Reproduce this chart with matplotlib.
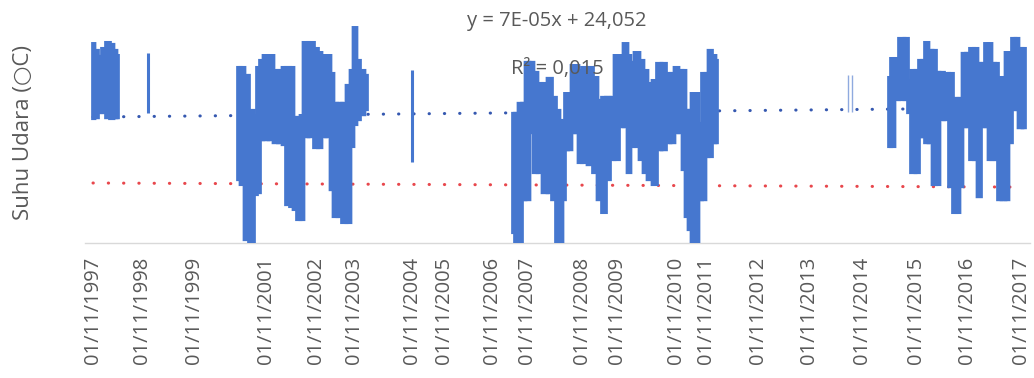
import matplotlib
matplotlib.use('Agg')
import matplotlib.pyplot as plt

plt.rcParams['path.simplify'] = False

# ---------------- data (x = category index of the daily series, y = air temperature in °C) -------------
tick_labels = ['01/11/1997', '01/11/1998', '01/11/1999', '01/11/2001', '01/11/2002',
               '01/11/2003', '01/11/2004', '01/11/2005', '01/11/2006', '01/11/2007',
               '01/11/2008', '01/11/2009', '01/11/2010', '01/11/2011', '01/11/2012',
               '01/11/2013', '01/11/2014', '01/11/2015', '01/11/2016', '01/11/2017']
tick_index = [0, 392, 808, 1384, 1784, 2088, 2552, 2808, 3192, 3472,
              3912, 4192, 4664, 4904, 5320, 5728, 6152, 6584, 6992, 7424]

# envelope (daily max / min band) of each continuous block of observations
segA_x = [0, 24, 56, 88, 120, 152, 176, 200]
segA_hi = [28.25, 27.86, 27.52, 27.97, 28.31, 28.20, 27.86, 27.57]
segA_lo = [23.94, 23.99, 24.28, 24.28, 23.99, 23.94, 23.99, 23.99]

segB_x = [1160, 1200, 1224, 1272, 1304, 1320, 1352, 1376, 1432, 1456,
          1504, 1528, 1560, 1592, 1616, 1648, 1672, 1696, 1752, 1784,
          1816, 1840, 1888, 1912, 1936, 1976, 2008, 2048, 2072, 2096,
          2120, 2152, 2192]
segB_hi = [26.89, 26.89, 26.44, 24.45, 24.16, 26.89, 27.29, 27.57, 27.57, 26.72,
           26.72, 26.89, 26.89, 26.89, 24.05, 24.05, 24.16, 28.31, 28.31, 27.97,
           27.74, 27.57, 27.57, 26.55, 24.85, 24.85, 24.85, 25.87, 26.72, 29.16,
           27.29, 26.72, 26.44]
segB_lo = [20.47, 20.19, 17.06, 16.95, 19.62, 19.73, 22.74, 22.74, 22.74, 22.57,
           22.57, 22.46, 19.05, 18.94, 18.77, 18.20, 18.20, 22.91, 22.91, 22.29,
           22.29, 22.91, 22.91, 19.90, 18.37, 18.37, 18.03, 18.03, 22.35, 23.60,
           23.88, 24.16, 24.45]

segC_x = [3360, 3392, 3416, 3448, 3472, 3512, 3536, 3576, 3616, 3656,
          3688, 3720, 3744, 3768, 3784, 3816, 3840, 3872, 3896, 3928,
          3984, 4016, 4056, 4088, 4120, 4152, 4192, 4224, 4264, 4288,
          4312, 4352, 4392, 4416, 4456, 4496, 4528, 4568, 4600, 4640,
          4664, 4704, 4728, 4752, 4776, 4800, 4832, 4856, 4888, 4912,
          4936, 4968, 4992]
segC_hi = [24.28, 24.28, 24.85, 24.85, 27.18, 27.18, 26.61, 25.98, 25.98, 26.27,
           25.19, 24.45, 23.48, 23.88, 25.41, 25.41, 27.00, 27.00, 26.72, 26.89,
           26.89, 26.32, 25.02, 25.19, 25.19, 25.19, 27.57, 27.57, 28.25, 27.57,
           27.18, 27.74, 27.29, 26.72, 25.98, 26.15, 27.12, 27.12, 26.55, 26.55,
           26.89, 26.72, 26.72, 24.45, 24.45, 25.41, 25.41, 23.71, 26.55, 26.55,
           27.86, 27.57, 27.29]
segC_lo = [17.46, 16.95, 16.95, 19.33, 19.33, 23.14, 20.87, 20.87, 19.73, 19.73,
           19.33, 16.95, 16.95, 19.33, 22.17, 22.17, 23.14, 23.14, 21.44, 21.44,
           21.32, 20.87, 19.33, 18.60, 20.47, 21.61, 21.61, 23.48, 23.48, 20.87,
           22.35, 22.35, 21.61, 20.87, 20.47, 20.19, 22.17, 22.17, 22.57, 22.57,
           23.14, 23.14, 21.04, 18.37, 17.63, 16.95, 16.95, 19.33, 19.33, 21.78,
           21.78, 22.57, 22.57]

segD_x = [6368, 6400, 6424, 6472, 6512, 6528, 6560, 6600, 6616, 6648,
          6664, 6704, 6728, 6760, 6784, 6832, 6864, 6896, 6920, 6944,
          6968, 7000, 7032, 7064, 7088, 7120, 7152, 7176, 7200, 7232,
          7248, 7288, 7312, 7336, 7368, 7392, 7416, 7456]
segD_hi = [26.32, 27.40, 27.40, 28.54, 28.54, 26.15, 26.72, 26.72, 27.29, 27.29,
           28.31, 27.86, 27.86, 26.61, 26.61, 26.55, 26.55, 25.13, 25.13, 25.13,
           27.69, 27.69, 27.97, 27.97, 27.12, 27.12, 28.25, 28.25, 27.12, 27.12,
           26.32, 26.32, 27.74, 27.74, 28.54, 28.54, 27.97, 27.97]
segD_lo = [22.35, 22.35, 25.02, 25.02, 25.02, 24.28, 20.87, 20.87, 22.91, 22.91,
           22.57, 22.57, 20.19, 20.19, 23.88, 23.88, 20.07, 18.60, 18.60, 20.07,
           23.48, 23.48, 21.61, 21.61, 19.50, 23.48, 23.48, 21.61, 21.61, 21.61,
           19.33, 19.33, 19.33, 22.57, 24.45, 24.45, 23.42, 23.42]

# isolated short records (vertical strokes)
spike_x = [440, 2552]
spike_lo = [24.28, 21.49]
spike_hi = [27.69, 26.72]
thin_x = [6040, 6072]
thin_lo = [24.33, 24.33]
thin_hi = [26.44, 26.44]

# linear trend (Excel) and the red reference line
trend_slope = 7e-05
trend_intercept = 24.052
trend_x = [0, 7392]
red_x = [0, 7392]
red_y = [20.30, 20.07]

# ---------------- drawing -------------
W, H = 1034, 378
fig = plt.figure(figsize=(W / 100, H / 100), dpi=100)
ax = fig.add_axes([85 / W, (H - 243) / H, (1030 - 85) / W, (243 - 15) / H])

blue = '#4677CF'
overlap = 6  # index units (< 1 px) added on each side so neighbouring columns overlap
segments = [(segA_x, segA_lo, segA_hi), (segB_x, segB_lo, segB_hi),
            (segC_x, segC_lo, segC_hi), (segD_x, segD_lo, segD_hi)]
for sx, lo, hi in segments:
    n = len(sx)
    lefts, widths, bottoms, heights = [], [], [], []
    for i in range(n):
        left = sx[0] if i == 0 else (sx[i - 1] + sx[i]) / 2
        right = sx[-1] if i == n - 1 else (sx[i] + sx[i + 1]) / 2
        lefts.append(left - overlap)
        widths.append(right - left + 2 * overlap)
        bottoms.append(lo[i])
        heights.append(hi[i] - lo[i])
    ax.bar(lefts, heights, width=widths, bottom=bottoms, align='edge',
           color=blue, edgecolor=blue, linewidth=1.6, snap=False, zorder=3)

ax.vlines(spike_x, spike_lo, spike_hi, colors=blue, linewidth=2.2, zorder=3)
ax.vlines(thin_x, thin_lo, thin_hi, colors='#8FAADF', linewidth=1.0, zorder=3)

trend_y = [trend_slope * x + trend_intercept for x in trend_x]
ax.plot(trend_x, trend_y, color='#3558B0', linewidth=2.2,
        linestyle=(0, (0.1, 4.9)), dash_capstyle='round', zorder=2)
ax.plot(red_x, red_y, color='#E8474C', linewidth=2.2,
        linestyle=(0, (0.1, 4.9)), dash_capstyle='round', zorder=2)

ax.set_xlim(-64, 7496)
ax.set_ylim(16.89, 29.85)

for s in ['left', 'right', 'top']:
    ax.spines[s].set_visible(False)
ax.spines['bottom'].set_color('#D9D9D9')
ax.spines['bottom'].set_linewidth(1.0)
ax.set_yticks([])
ax.set_xticks(tick_index)
ax.set_xticklabels(tick_labels, rotation=90, fontsize=14.5, color='#595959',
                   family=['Open Sans', 'DejaVu Sans'])
ax.tick_params(axis='x', length=0, pad=10)

fig.text(24 / W, 1 - 133 / H, 'Suhu Udara (\u25cbC)', rotation=90, ha='center', va='center',
         fontsize=16, color='#595959', family=['Open Sans', 'DejaVu Sans'])

fig.text(557 / W, 1 - 21 / H, 'y = 7E-05x + 24,052', ha='center', va='center',
         fontsize=14.5, color='#595959', family=['Open Sans', 'DejaVu Sans'], zorder=5)
fig.text(557 / W, 1 - 69 / H, 'R\u00b2 = 0,015', ha='center', va='center',
         fontsize=14.5, color='#595959', family=['Open Sans', 'DejaVu Sans'], zorder=5)

fig.savefig('out.png', dpi=100)
